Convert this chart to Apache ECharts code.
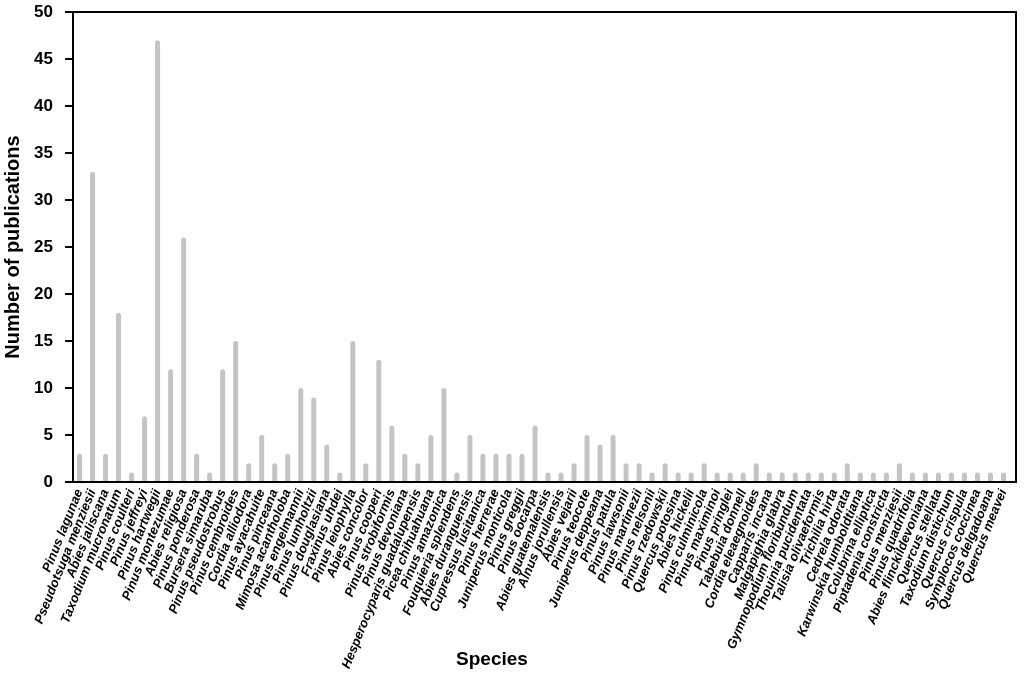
<!DOCTYPE html>
<html>
<head>
<meta charset="utf-8">
<script src="https://cdn.jsdelivr.net/npm/echarts@6/dist/echarts.min.js"></script>
<style>
html,body{margin:0;padding:0;background:#fff;}
#chart{width:1024px;height:679px;}
</style>
</head>
<body>
<div id="chart"></div>
<script>
const species = [
  "Pinus lagunae","Pseudotsuga menziesii","Abies jaliscana","Taxodium mucronatum","Pinus coulteri",
  "Pinus jeffreyi","Pinus hartwegii","Pinus montezumae","Abies religiosa","Pinus ponderosa",
  "Bursera simaruba","Pinus pseudostrobus","Pinus cembroides","Cordia alliodora","Pinus ayacahuite",
  "Pinus pinceana","Mimosa acantholoba","Pinus engelmannii","Pinus lumholtzii","Pinus douglasiana",
  "Fraxinus uhdei","Pinus leiophylla","Abies concolor","Pinus cooperi","Pinus strobiformis",
  "Pinus devoniana","Hesperocyparis guadalupensis","Picea chihuahuana","Pinus amazonica","Fouquieria splendens",
  "Abies duranguensis","Cupressus lusitanica","Pinus herrerae","Juniperus monticola","Pinus greggii",
  "Pinus oocarpa","Abies guatemalensis","Alnus jorullensis","Abies vejarii","Pinus teocote",
  "Juniperus deppeana","Pinus patula","Pinus lawsonii","Pinus martinezii","Pinus nelsonii",
  "Pinus rzedowskii","Quercus potosina","Abies hickelii","Pinus culminicola","Pinus maximinoi",
  "Pinus pringlei","Tabebuia donnell","Cordia eleaegnoides","Capparis incana","Malgapighia glabra",
  "Gymnopodium floribundum","Thouinia pucidentata","Talisia olivaeformis","Trichilia hirta","Cedrela odorata",
  "Karwinskia humboldtiana","Colubrina elliptica","Piptadenia constricta","Pinus menziesii","Pinus quadrifolia",
  "Abies flinckildevoniana","Quercus stellata","Taxodium distichum","Quercus crispula","Symplocos coccinea",
  "Quercus delgadoana","Quercus meavei"
];
const publications = [
  3,33,3,18,1,
  7,47,12,26,3,
  1,12,15,2,5,
  2,3,10,9,4,
  1,15,2,13,6,
  3,2,5,10,1,
  5,3,3,3,3,
  6,1,1,2,5,
  4,5,2,2,1,
  2,1,1,2,1,
  1,1,2,1,1,
  1,1,1,1,2,
  1,1,1,2,1,
  1,1,1,1,1,
  1,1
];
const yTicks = [0,5,10,15,20,25,30,35,40,45,50];

const FONT = "'Liberation Sans', Arial, Helvetica, sans-serif";
const chart = echarts.init(document.getElementById('chart'), null, {renderer:'canvas'});
chart.setOption({
  animation:false,
  backgroundColor:'#fff',
  grid:{left:73, top:12, right:14, bottom:197, containLabel:false, outerBoundsMode:'none'},
  xAxis:{
    type:'category',
    data:species,
    axisLine:{lineStyle:{color:'#000', width:2}},
    axisTick:{alignWithLabel:true, length:7, lineStyle:{color:'#000', width:2}},
    axisLabel:{interval:0, rotate:68, margin:8, color:'#000',
      fontFamily:FONT, fontWeight:'bold', fontStyle:'italic', fontSize:13}
  },
  yAxis:{
    type:'value',
    min:yTicks[0], max:yTicks[yTicks.length-1], interval:5,
    name:'Number of publications',
    nameLocation:'middle', nameGap:50,
    nameTextStyle:{color:'#000', fontFamily:FONT, fontWeight:'bold', fontSize:20},
    splitLine:{show:false},
    axisLine:{show:true, lineStyle:{color:'#000', width:2}},
    axisTick:{show:true, length:8, lineStyle:{color:'#000', width:2}},
    axisLabel:{margin:20, color:'#000', fontFamily:FONT, fontWeight:'bold', fontSize:17}
  },
  series:[{
    type:'bar',
    data:publications,
    barWidth:5,
    itemStyle:{color:'#c4c4c4', borderRadius:[2.5,2.5,0,0]}
  }],
  graphic:[
    {type:'rect', z:100, silent:true,
     shape:{x:73, y:12, width:943, height:470},
     style:{fill:null, stroke:'#000', lineWidth:2}},
    {type:'text', z:100, x:492, y:660,
     style:{text:'Species', fill:'#000', font:"bold 19px " + FONT, textAlign:'center', textVerticalAlign:'middle'}}
  ]
});
</script>
</body>
</html>
